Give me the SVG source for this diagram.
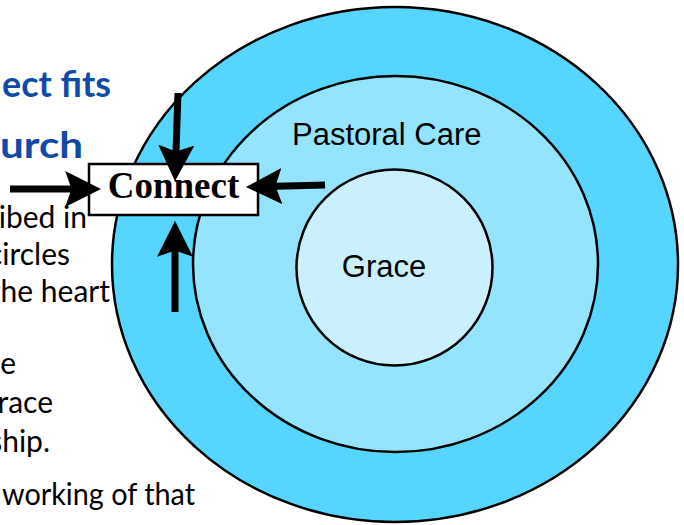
<svg xmlns="http://www.w3.org/2000/svg" width="684" height="525" viewBox="0 0 684 525">
<style>
.ring{stroke:#000;stroke-width:2.5}
.lbl{font-family:"Liberation Sans",Arial,sans-serif;font-size:31px;fill:#000}
.body{font-family:Lato,"Open Sans",sans-serif;font-size:30px;fill:#000}
.title{font-family:Lato,"Open Sans",sans-serif;font-size:37px;font-weight:700;fill:#0E4AA6}
.arr{stroke:#000;stroke-width:7;fill:none;marker-end:url(#ah)}
</style>
<defs>
<marker id="ah" markerUnits="userSpaceOnUse" markerWidth="36" markerHeight="36" viewBox="0 0 34 34" refX="14" refY="17" orient="auto">
<path d="M0,0 L34,17 L0,34 L6,17 Z" fill="#000"/>
</marker>
</defs>
<rect width="684" height="525" fill="#fff"/>
<g id="slide-text">
<text class="title" x="2" y="97" textLength="109" lengthAdjust="spacingAndGlyphs">ect fits</text>
<text class="title" x="0" y="158" textLength="83" lengthAdjust="spacingAndGlyphs">urch</text>
<text class="body" x="87" y="228" text-anchor="end">ibed in</text>
<text class="body" x="70" y="265" text-anchor="end">circles</text>
<text class="body" x="110" y="302" text-anchor="end">the heart</text>
<text class="body" x="16" y="374" text-anchor="end">e</text>
<text class="body" x="53" y="413" text-anchor="end">race</text>
<text class="body" x="50" y="452" text-anchor="end">ship.</text>
<text class="body" x="2" y="505" textLength="193" lengthAdjust="spacingAndGlyphs">working of that</text>
</g>
<g id="outer">
<ellipse class="ring" cx="395" cy="264.5" rx="283" ry="257.5" fill="#56D5FE"/>
</g>
<g id="pastoral-care">
<ellipse class="ring" cx="395.5" cy="264" rx="202.5" ry="188" fill="#95E4FE"/>
<text class="lbl" x="292" y="145">Pastoral Care</text>
</g>
<g id="grace">
<circle class="ring" cx="394.5" cy="267.5" r="98" fill="#CAF0FD"/>
<text class="lbl" x="384" y="277" text-anchor="middle">Grace</text>
</g>
<g id="connect">
<rect x="89" y="164" width="169" height="51" fill="#fff" stroke="#000" stroke-width="2.5"/>
<text x="173.5" y="198" text-anchor="middle" font-family="'Liberation Serif','Times New Roman',serif" font-weight="700" font-size="37">Connect</text>
</g>
<g id="connectors">
<line class="arr" x1="178" y1="93" x2="175.7" y2="160"/>
<line class="arr" x1="10" y1="189" x2="80" y2="189"/>
<line class="arr" x1="325" y1="185" x2="267" y2="186.5"/>
<line class="arr" x1="175" y1="312" x2="175" y2="242"/>
</g>
</svg>
